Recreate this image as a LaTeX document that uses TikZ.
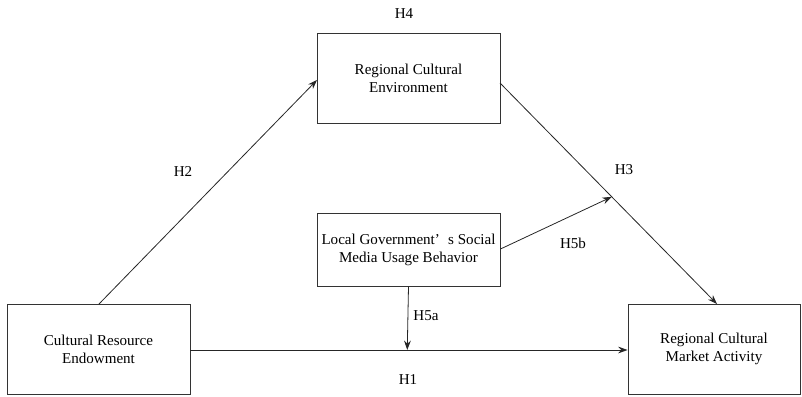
\documentclass[tikz,border=0pt]{standalone}
\usepackage{fontspec}
\setmainfont{Liberation Serif}
\usetikzlibrary{arrows.meta}
\begin{document}
\begin{tikzpicture}[x=0.75pt,y=-0.75pt,
  box/.style={draw=black!80,line width=0.7pt,minimum width=137.25pt,minimum height=67.5pt,align=center,font=\fontsize{11.3}{13.5}\selectfont,inner sep=0pt},
  conn/.style={draw=black!85,line width=0.6pt},
  arr/.style={conn,-{Stealth[length=7pt,width=5pt]}},
  lbl/.style={font=\fontsize{11.3}{13.5}\selectfont,inner sep=0pt}]
\useasboundingbox (0,0) rectangle (802,396);
\node[box] (cre) at (98.5,349) {Cultural Resource\\Endowment};
\node[box,minimum width=129pt] (rcma) at (714,349) {Regional Cultural\\Market Activity};
\node[box] (rce) at (408.5,78) {Regional Cultural\\Environment};
\node[box,minimum height=54.75pt] (lg) at (408.5,249.5) {Local Government’\hspace{0.55em}s Social\\Media Usage Behavior};
\coordinate (rceout) at (500,83);
\coordinate (rcmain) at (717,304);
\coordinate (creout) at (99,304);
\coordinate (rcein) at (317,80);
\draw[arr] (creout) -- (rcein);
\draw[arr] (rceout) -- (rcmain) coordinate[pos=0.515] (mid);
\draw[arr] (lg.east |- 0,249) -- (mid);
\draw[arr] (cre.east |- 0,350) -- (rcma.west |- 0,350) coordinate[pos=0.496] (h1mid);
\draw[arr] (lg.south) -- (h1mid);
\node[lbl] (h4) at (404,14) {H4};
\node[lbl] (h2) at (183,172) {H2};
\node[lbl] (h3) at (624,170) {H3};
\node[lbl] (h5b) at (573,243) {H5b};
\node[lbl] (h5a) at (426,316) {H5a};
\node[lbl] (h1) at (408,380) {H1};
\end{tikzpicture}
\end{document}
